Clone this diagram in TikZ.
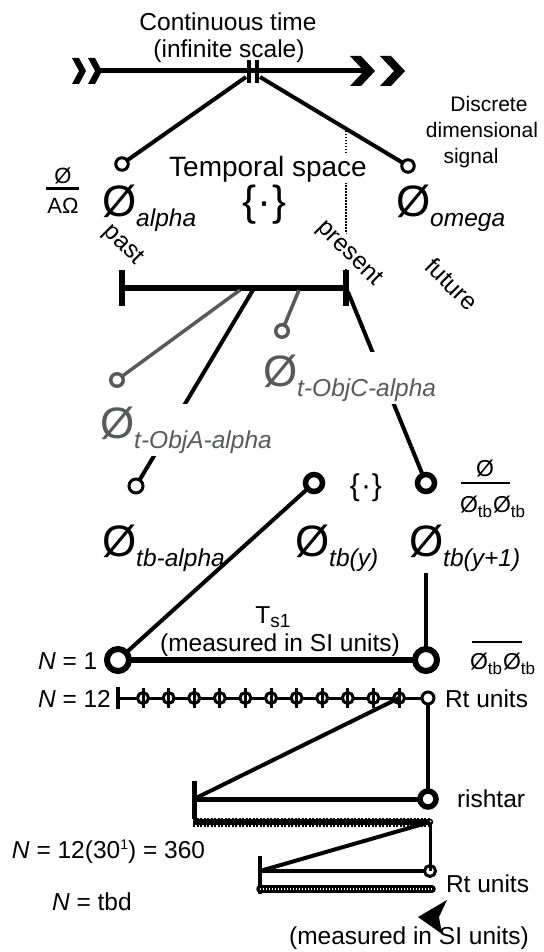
\documentclass[tikz,border=0pt]{standalone}
\usepackage{fontspec}
\setmainfont{Liberation Sans}
\usetikzlibrary{calc}
\definecolor{grayc}{HTML}{58595B}
\newcommand{\BO}{{\fontsize{44}{44}\selectfont Ø}}
\newcommand{\Sb}[1]{\raisebox{-10pt}{\itshape #1}}
\newcommand{\Otb}{{\fontsize{23}{23}\selectfont Ø}\raisebox{-5pt}{\fontsize{17}{17}\selectfont tb}}
\begin{document}
\begin{tikzpicture}[x=1pt,y=-1pt,
  every node/.style={inner sep=0pt,outer sep=0pt,font=\fontsize{24.5}{27}\selectfont},
  ringS/.style={circle,draw,line width=3pt,minimum size=12.5pt,inner sep=0pt},
  ringG/.style={ringS,draw=grayc,line width=3.5pt},
  ringM/.style={circle,draw,line width=5.5pt,minimum size=17pt,inner sep=0pt},
  ringL/.style={circle,draw,line width=6pt,minimum size=22pt,inner sep=0pt},
  phi/.style={circle,draw,fill=white,line width=3pt,minimum size=11pt,inner sep=0pt},
  conn/.style={line width=4pt},
  gconn/.style={line width=3.5pt,draw=grayc},
  lab/.style={anchor=base west},
  clab/.style={anchor=base},
  sig/.style={anchor=base,font=\fontsize{21}{23}\selectfont}
]
\fill[white] (0,0) rectangle (543,952);
\useasboundingbox (0,0) rectangle (543,952);

% ---------- continuous time axis
\node[clab] (ct) at (228,31) {Continuous time};
\node[clab] (is) at (229,58) {(infinite scale)};
\draw[line width=5pt] (97,71) -- (364,71);
\fill (72,58) -- (79,58) -- (86,71) -- (79,84) -- (72,84) -- (79,71) -- cycle;
\fill (88,58) -- (95,58) -- (102,71) -- (95,84) -- (88,84) -- (95,71) -- cycle;
\fill (350,56) -- (361,56) -- (375,71) -- (361,86) -- (350,86) -- (364,71) -- cycle;
\fill (380,56) -- (391,56) -- (405,71) -- (391,86) -- (380,86) -- (394,71) -- cycle;
\draw[line width=4pt] (249,60) -- (249,83) (257,60) -- (257,83);
\coordinate (tkL) at (246,77);
\coordinate (tkR) at (260,77);

\node[ringS] (cA) at (122,164) {};
\node[ringS] (cW) at (408,166) {};
\draw[conn] (tkL) -- (cA);
\draw[conn] (tkR) -- (cW);

\node[sig] (d1) at (489,112) {Discrete};
\node[sig] (d2) at (482,138) {dimensional};
\node[sig] (d3) at (471,164) {signal};

% dotted present marker
\coordinate (dT) at (346,128);
\coordinate (dB) at (346,272);
\draw[line width=2pt,dash pattern=on 1.5pt off 1.5pt] (dT) -- (dB);

\node[clab,font=\fontsize{28}{30}\selectfont,fill=white,inner sep=1pt] (ts) at (268,176) {Temporal space};
\node[font=\fontsize{42}{42}\selectfont] (br1) at (265,205) {\{\kern1pt·\kern1pt\}};

\node[clab,font=\fontsize{22}{24}\selectfont] (f1n) at (63,183) {Ø};
\draw[line width=2.5pt] (46,188.5) -- (79,188.5);
\node[clab,font=\fontsize{22}{24}\selectfont] (f1d) at (63,213) {AΩ};

\node[lab] (oa) at (102,216) {\BO\Sb{alpha}};
\node[lab] (ow) at (396,216) {\BO\Sb{omega}};

\node[rotate=-45] (past) at (123,245) {past};
\node[rotate=-45,fill=white,inner sep=2pt] (pres) at (349,254) {present};
\node[rotate=-45] (fut) at (452,284) {future};

% ---------- temporal bar
\draw[line width=6pt] (122,288) -- (346,288);
\draw[line width=6pt] (122,270) -- (122,306) (346,270) -- (346,306);
\coordinate (bg1) at (240,290);
\coordinate (bb1) at (253,290);
\coordinate (bg2) at (299,290);
\coordinate (bb2) at (348,292);

\node[ringG] (cOA) at (117,380) {};
\node[ringG] (cOC) at (282,331) {};
\node[ringS,minimum size=14pt] (cTA) at (136,486) {};
\node[ringM] (cTY) at (314,483) {};
\node[ringM] (cTY1) at (426,483) {};

\draw[gconn] (bg1) -- (cOA);
\draw[gconn] (bg2) -- (cOC);
\draw[conn] (bb1) -- (cTA);
\draw[conn] (bb2) -- (cTY1);

\node[lab,text=grayc,fill=white,inner sep=3pt] (oC) at (260,386) {\BO\Sb{t-ObjC-alpha}};
\node[lab,text=grayc,fill=white,inner sep=3pt] (oAl) at (97,438) {\BO\Sb{t-ObjA-alpha}};

% ---------- tb row
\node[font=\fontsize{30}{30}\selectfont] (br2) at (366,488) {\{\kern1pt·\kern1pt\}};
\node[clab] (f2n) at (485,476) {\fontsize{23}{23}\selectfont Ø};
\draw[line width=2.5pt] (461,483) -- (510,483);
\node[lab] (f2d) at (460,512) {\Otb\kern1pt\Otb};

\node[lab] (lta) at (102,556) {\BO\Sb{tb-alpha}};
\node[lab] (lty) at (295,556) {\BO\Sb{tb(y)}};
\node[lab,fill=white,inner sep=2pt] (lty1) at (407,556) {\BO\Sb{tb(y+1)}};

% ---------- N = 1
\node[ringL] (cN1L) at (118,660) {};
\node[ringL] (cN1R) at (426,660) {};
\draw[line width=6pt] (cN1L) -- (cN1R);
\draw[conn] (cTY) -- (cN1L);
\draw[conn] (cTY1 |- lty1.south) -- (cN1R);

\node[clab] (ts1) at (273,623) {T\raisebox{-4pt}{\fontsize{19}{19}\selectfont s1}};
\node[clab] (ms1) at (280,651) {(measured in SI units)};
\node[lab] (n1) at (38,669) {\textit{N} = 1};
\node[lab] (ovl) at (470,669) {\Otb\kern1pt\Otb};
\draw[line width=2.5pt] (472,642) -- (522,642);

% ---------- N = 12
\node[lab] (n12) at (38,707) {\textit{N} = 12};
\draw[line width=4pt] (118,687) -- (118,709);
\coordinate (n12L) at (118,698);
\node[ringS,minimum size=12pt] (cN12E) at (428,698) {};
\draw[line width=3pt] (n12L) -- (cN12E);
\foreach \i in {0,...,10}{
  \node[phi] (p\i) at ({143+25.6*\i},698) {};
  \draw[line width=3pt] (p\i.center) ++(0,-10) -- ++(0,20);
}
\node[lab] (rt1) at (445,707) {Rt units};

% ---------- rishtar
\draw[line width=5pt] (194,781) -- (194,819);
\coordinate (rL) at (194,799);
\node[ringM,minimum size=16pt] (cRi) at (428,799) {};
\draw[line width=5pt] (rL) -- (cRi);
\draw[line width=3.5pt] (cN12E) -- (cRi);
\draw[conn] (p10.center) -- (rL);
\node[lab] (ri) at (457,807) {rishtar};

% hatched bar 1
\coordinate (hL) at (193,822);
\coordinate (hR) at (430,822);
\draw[line width=6.5pt] (hL) -- (hR);
\draw[line width=9pt,dash pattern=on 2pt off 1.5pt] (hL) -- (hR);
\draw[line width=1.5pt,fill=white] (hR) circle (2.5);

% Rt bar
\draw[line width=4pt] (260,856) -- (260,894);
\coordinate (b2L) at (260,871);
\node[ringS,minimum size=11pt] (cRt) at (430,871) {};
\draw[line width=3.5pt] (b2L) -- (cRt);
\draw[line width=3pt] (hR) -- (cRt.center);
\draw[conn] (hR) -- (b2L);

% hatched bar 2
\coordinate (h2L) at (260,889);
\coordinate (h2R) at (432,889);
\draw[line width=7.5pt,line cap=round] (h2L) -- (h2R);
\draw[line width=2pt,white,dash pattern=on 0.8pt off 2.2pt] (h2L) -- (h2R);
\node[lab] (rt2) at (446,892) {Rt units};

% ---------- bottom labels
\node[lab] (n360) at (12,858) {\textit{N} = 12(30\raisebox{9pt}{\fontsize{14}{14}\selectfont 1}) = 360};
\node[lab] (ntbd) at (52,910) {\textit{N} = tbd};
\node[clab] (ms2) at (409,944) {(measured in SI units)};
\fill (447,900) -- (418,917) -- (442,934) -- (439,917) -- cycle;
\end{tikzpicture}
\end{document}
